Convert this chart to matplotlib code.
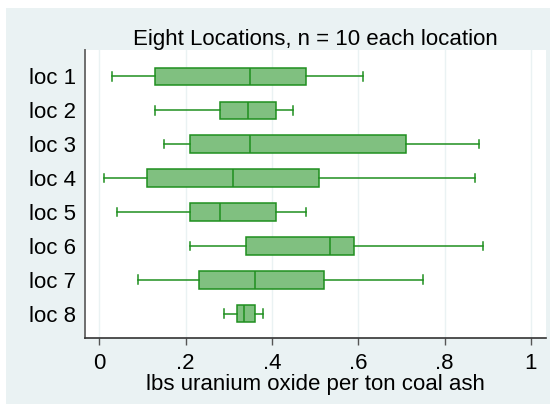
import matplotlib
matplotlib.use('Agg')
import matplotlib.pyplot as plt
from matplotlib.patches import Rectangle

plt.rcParams['font.family'] = ['Liberation Sans', 'DejaVu Sans']

locations = ['loc 1', 'loc 2', 'loc 3', 'loc 4', 'loc 5', 'loc 6', 'loc 7', 'loc 8']
whisker_lo = [0.03, 0.13, 0.15, 0.01, 0.04, 0.21, 0.09, 0.29]
q1 = [0.13, 0.28, 0.21, 0.11, 0.21, 0.34, 0.23, 0.32]
median = [0.35, 0.345, 0.35, 0.31, 0.28, 0.535, 0.36, 0.335]
q3 = [0.48, 0.41, 0.71, 0.51, 0.41, 0.59, 0.52, 0.36]
whisker_hi = [0.61, 0.45, 0.88, 0.87, 0.48, 0.89, 0.75, 0.38]
xticks = [0, 0.2, 0.4, 0.6, 0.8, 1.0]
xtick_labels = ['0', '.2', '.4', '.6', '.8', '1']

stats = []
for i in range(len(locations)):
    stats.append({'label': locations[i], 'whislo': whisker_lo[i], 'q1': q1[i],
                  'med': median[i], 'q3': q3[i], 'whishi': whisker_hi[i], 'fliers': []})

fill = '#80c080'
edge = '#1f8f1f'
bg = '#eaf2f3'
fs = 16

fig = plt.figure(figsize=(5.55, 4.04), dpi=100)
fig.patches.append(Rectangle((6 / 555, 0), 544 / 555, 396 / 404, transform=fig.transFigure,
                             facecolor=bg, edgecolor='none', zorder=-10))

ax = fig.add_axes([85 / 555, 1 - 338 / 404, 461 / 555, 288 / 404])
ax.set_facecolor('white')

positions = list(range(1, len(locations) + 1))
ax.bxp(stats, positions=positions, vert=False, widths=0.52, patch_artist=True,
       showfliers=False,
       boxprops=dict(facecolor=fill, edgecolor=edge, linewidth=1.1),
       medianprops=dict(color=edge, linewidth=1.1),
       whiskerprops=dict(color=edge, linewidth=1.1),
       capprops=dict(color=edge, linewidth=1.1),
       capwidths=0.25, zorder=3)

ax.set_xlim(-0.033, 1.035)
ax.set_ylim(8.72, 0.22)

ax.set_xticks(xticks)
ax.set_xticklabels(xtick_labels, fontsize=fs)
ax.set_yticks(positions)
ax.set_yticklabels(locations, fontsize=fs)
ax.tick_params(axis='y', length=0, pad=6.5)
ax.tick_params(axis='x', length=5, width=1, color='#555555', pad=5.5)

ax.grid(axis='x', color=bg, linewidth=1, zorder=0)
ax.set_axisbelow(True)

for s in ['top', 'right']:
    ax.spines[s].set_visible(False)
ax.spines['left'].set_color('#6e6e6e')
ax.spines['left'].set_linewidth(1.4)
ax.spines['bottom'].set_color('#333333')
ax.spines['bottom'].set_linewidth(1.2)

ax.set_title('Eight Locations, n = 10 each location', fontsize=fs, pad=2.5)
ax.set_xlabel('lbs uranium oxide per ton coal ash', fontsize=fs, labelpad=0.5)

fig.savefig('out.png', dpi=100)
